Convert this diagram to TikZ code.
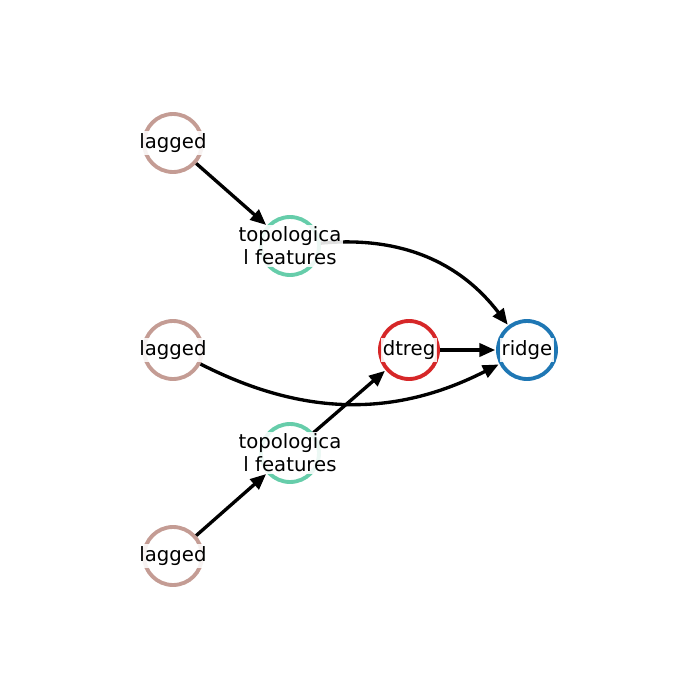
\documentclass[tikz,border=0pt]{standalone}
\usepackage{fontspec}
\setmainfont{DejaVu Sans}
\usepackage{xcolor}
\usetikzlibrary{arrows.meta}

\definecolor{laggedc}{HTML}{C49C94}
\definecolor{topoc}{HTML}{66CDAA}
\definecolor{dtregc}{HTML}{D62728}
\definecolor{ridgec}{HTML}{1F77B4}

\tikzset{
	ring/.style={shape=circle, draw=#1, line width=2.2pt, minimum size=1.16cm, inner sep=0pt},
	link/.style={line width=1.9pt, -{Triangle[length=9pt, width=7.5pt]}, shorten >=0.5pt},
	tag/.style={fill=white, fill opacity=0.88, text opacity=1, inner sep=1.2pt, align=center, font=\fontsize{11.2}{13}\selectfont}
}

\begin{document}
\begin{tikzpicture}
	\useasboundingbox (0, 0) rectangle (14, -14);
	% Rings:
	\node[ring=laggedc](L1) at (3.46, -2.86){};
	\node[ring=topoc](T1) at (5.8, -4.92){};
	\node[ring=laggedc](L2) at (3.46, -7){};
	\node[ring=dtregc](D1) at (8.18, -7){};
	\node[ring=ridgec](R1) at (10.54, -7){};
	\node[ring=topoc](T2) at (5.8, -9.06){};
	\node[ring=laggedc](L3) at (3.46, -11.12){};
	% Links:
	\draw[link] (L1) -- (T1);
	\draw[link] (T1) to[bend left=29] (R1);
	\draw[link] (L2) to[bend right=27] (R1);
	\draw[link] (L3) -- (T2);
	\draw[link] (T2) -- (D1);
	\draw[link] (D1) -- (R1);
	% Labels:
	\node[tag](L1t) at (L1){lagged};
	\node[tag](T1t) at (T1){topologica\\l features};
	\node[tag](L2t) at (L2){lagged};
	\node[tag](D1t) at (D1){dtreg};
	\node[tag](R1t) at (R1){ridge};
	\node[tag](T2t) at (T2){topologica\\l features};
	\node[tag](L3t) at (L3){lagged};
\end{tikzpicture}
\end{document}
